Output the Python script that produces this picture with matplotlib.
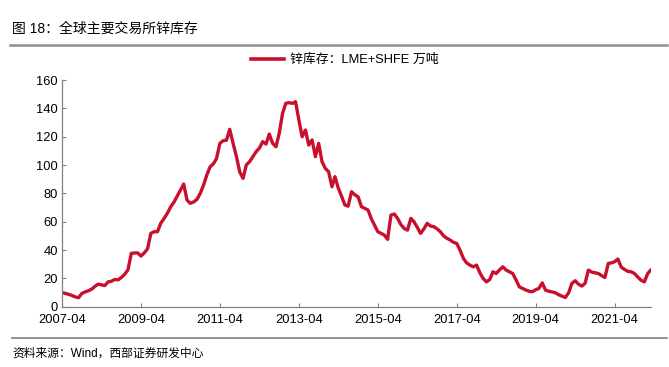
import matplotlib
matplotlib.use("Agg")
import matplotlib.pyplot as plt
import matplotlib.dates as mdates
import pandas as pd
from matplotlib.lines import Line2D

plt.rcParams['font.family'] = ['Liberation Sans', 'Noto Sans CJK SC', 'DejaVu Sans']

start_month = "2007-04"
values = [
    # 2007 Apr-Dec
    10, 9.5, 8.8, 8, 7, 6.4, 9.4, 10.5, 11.3,
    # 2008
    12.5, 14.5, 16, 15.5, 15, 17.6, 18, 19.3, 19, 20.7, 23, 26,
    # 2009
    37.7, 38, 38, 35.8, 38, 41, 51.8, 53, 53, 59, 62.4, 66,
    # 2010
    70.6, 74, 78, 82.4, 86.6, 75.3, 73, 74, 75.8, 80, 85.9, 93,
    # 2011
    98.8, 101, 104.7, 115.3, 117.2, 117.5, 125.2, 115.3, 106, 95.3, 90.6, 100,
    # 2012
    102.4, 106, 109.4, 112, 116.5, 114.8, 121.9, 115.3, 112.9, 122.4, 136.5, 143.6,
    # 2013
    144, 143.5, 144.7, 131.8, 120, 124.7, 114.1, 117.7, 105.9, 115.3, 102.4, 97.7,
    # 2014
    95.3, 84.7, 91.8, 83.6, 78, 71.8, 71, 81.2, 79, 77.6, 70.6, 69.5,
    # 2015
    68.3, 62, 57.7, 53, 51.8, 50.6, 47.6, 64.7, 65.5, 62.4, 58, 55.3,
    # 2016
    54.1, 62.4, 60, 56, 51.8, 55, 58.9, 57, 56.5, 55, 52.9, 50,
    # 2017
    48.3, 47, 45.5, 44.7, 40, 34.2, 31, 29.4, 28.2, 29.4, 24, 20,
    # 2018
    17.6, 19.3, 24.7, 23.5, 26, 28.2, 26, 24.7, 23.5, 19, 14.1, 13,
    # 2019
    11.8, 11, 10.6, 12, 13, 16.9, 11.8, 11, 10.5, 9.9, 8.5, 7.5,
    # 2020
    6.6, 10, 16.5, 18.4, 16, 14.6, 16.5, 25.9, 24.5, 24, 23.5, 22,
    # 2021
    20.7, 30.6, 31, 31.8, 33.7, 28, 26.4, 25, 24.7, 23.5, 21, 18.8,
    # 2022
    17.6, 23.5, 25.9,
]
dates = pd.date_range(start=start_month, periods=len(values), freq="MS")

tick_labels = ["2007-04", "2009-04", "2011-04", "2013-04", "2015-04",
               "2017-04", "2019-04", "2021-04"]
y_ticks = [0, 20, 40, 60, 80, 100, 120, 140, 160]

title = "图 18：全球主要交易所锌库存"
legend_label = "锌库存：LME+SHFE 万吨"
source = "资料来源：Wind，西部证券研发中心"

red = "#C8102E"
gray = "#808080"

fig = plt.figure(figsize=(6.69, 3.67), dpi=100)
ax = fig.add_axes([0.0927, 0.164, 0.880, 0.618])

ax.plot(dates, values, color=red, lw=2.4, solid_joinstyle='round')

ax.set_xlim(dates[0], dates[-1])
ax.set_ylim(0, 160)
ax.set_yticks(y_ticks)
ax.set_xticks(pd.to_datetime(tick_labels))
ax.xaxis.set_major_formatter(mdates.DateFormatter('%Y-%m'))

for s in ['top', 'right']:
    ax.spines[s].set_visible(False)
for s in ['left', 'bottom']:
    ax.spines[s].set_color(gray)
    ax.spines[s].set_linewidth(0.9)
ax.tick_params(axis='both', direction='in', length=3, color=gray,
               labelsize=9.3, labelcolor='black')
ax.tick_params(axis='x', pad=5)
ax.tick_params(axis='y', pad=3)

handle = Line2D([], [], color=red, lw=2.6)
ax.legend([handle], [legend_label], loc='lower center',
          bbox_to_anchor=(0.48, 1.01), frameon=False, fontsize=9.3,
          handlelength=2.6, handletextpad=0.4)

fig.text(0.018, 0.923, title, fontsize=10, va='center', ha='left')
fig.add_artist(Line2D([0.015, 0.997], [0.877, 0.877], color='#909090', lw=1.8,
                      transform=fig.transFigure))
fig.add_artist(Line2D([0.018, 0.997], [0.079, 0.079], color='#808080', lw=1.2,
                      transform=fig.transFigure))
fig.text(0.018, 0.037, source, fontsize=8.5, va='center', ha='left')

fig.savefig("out.png", dpi=100)
